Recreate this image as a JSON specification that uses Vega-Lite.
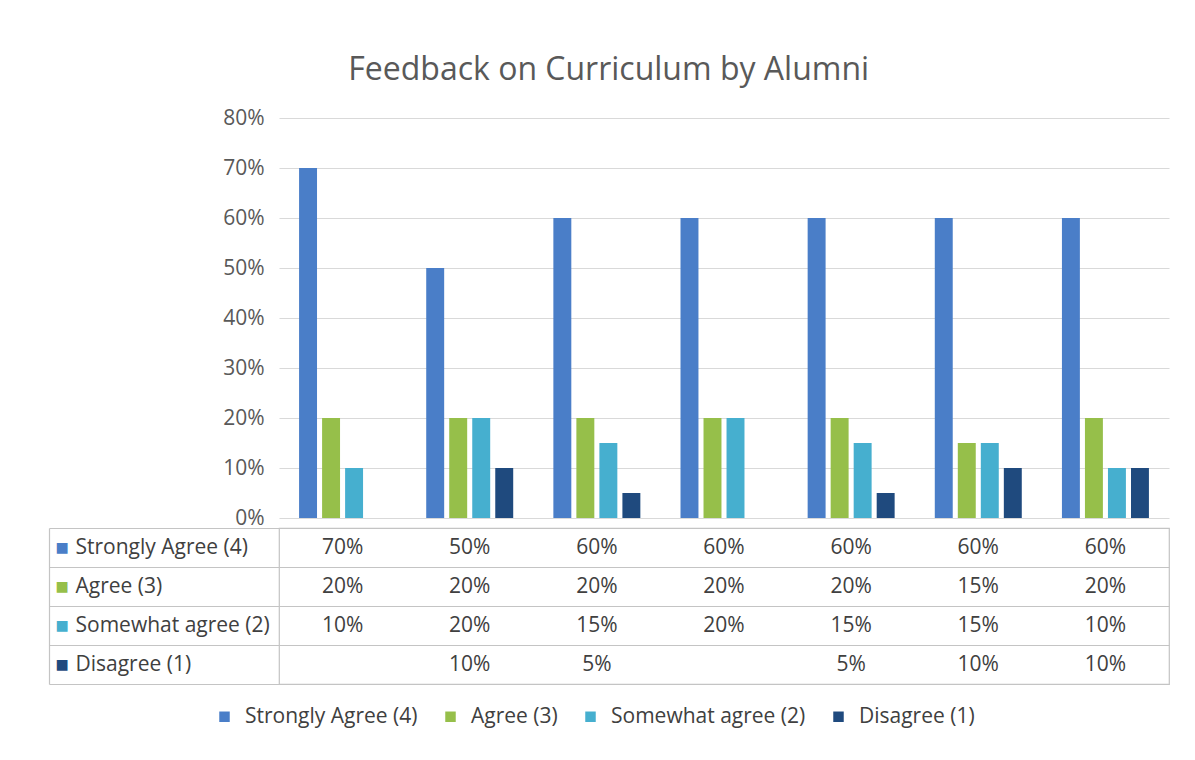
{
  "$schema": "https://vega.github.io/schema/vega-lite/v6.json",
  "background": "white",
  "padding": {"left": 47, "top": 54, "right": 20, "bottom": 10},
  "title": {"text": "Feedback on Curriculum by Alumni", "fontSize": 32, "font": "Open Sans", "fontWeight": "normal", "color": "#595959", "anchor": "middle", "offset": 20},
  "data": {"values": [
    {"item": "1", "series": "Strongly Agree (4)", "value": 0.70},
    {"item": "1", "series": "Agree (3)", "value": 0.20},
    {"item": "1", "series": "Somewhat agree (2)", "value": 0.10},
    {"item": "2", "series": "Strongly Agree (4)", "value": 0.50},
    {"item": "2", "series": "Agree (3)", "value": 0.20},
    {"item": "2", "series": "Somewhat agree (2)", "value": 0.20},
    {"item": "2", "series": "Disagree (1)", "value": 0.10},
    {"item": "3", "series": "Strongly Agree (4)", "value": 0.60},
    {"item": "3", "series": "Agree (3)", "value": 0.20},
    {"item": "3", "series": "Somewhat agree (2)", "value": 0.15},
    {"item": "3", "series": "Disagree (1)", "value": 0.05},
    {"item": "4", "series": "Strongly Agree (4)", "value": 0.60},
    {"item": "4", "series": "Agree (3)", "value": 0.20},
    {"item": "4", "series": "Somewhat agree (2)", "value": 0.20},
    {"item": "5", "series": "Strongly Agree (4)", "value": 0.60},
    {"item": "5", "series": "Agree (3)", "value": 0.20},
    {"item": "5", "series": "Somewhat agree (2)", "value": 0.15},
    {"item": "5", "series": "Disagree (1)", "value": 0.05},
    {"item": "6", "series": "Strongly Agree (4)", "value": 0.60},
    {"item": "6", "series": "Agree (3)", "value": 0.15},
    {"item": "6", "series": "Somewhat agree (2)", "value": 0.15},
    {"item": "6", "series": "Disagree (1)", "value": 0.10},
    {"item": "7", "series": "Strongly Agree (4)", "value": 0.60},
    {"item": "7", "series": "Agree (3)", "value": 0.20},
    {"item": "7", "series": "Somewhat agree (2)", "value": 0.10},
    {"item": "7", "series": "Disagree (1)", "value": 0.10}
  ]},
  "spacing": -13,
  "resolve": {"scale": {"x": "independent", "y": "independent"}},
  "vconcat": [
    {
      "width": 890,
      "height": 400,
      "mark": {"type": "bar"},
      "encoding": {
        "x": {"field": "item", "type": "nominal", "axis": null, "scale": {"paddingInner": 0.276, "paddingOuter": 0.138}},
        "xOffset": {"field": "series", "type": "nominal", "scale": {"domain": ["Strongly Agree (4)", "Agree (3)", "Somewhat agree (2)", "Disagree (1)"], "paddingInner": 0.22, "paddingOuter": 0.11}},
        "y": {"field": "value", "type": "quantitative", "scale": {"domain": [0, 0.8], "nice": false},
          "axis": {"title": null, "values": [0, 0.1, 0.2, 0.3, 0.4, 0.5, 0.6, 0.7, 0.8], "format": ".0%", "domain": false, "ticks": false, "labelPadding": 15, "labelFontSize": 21, "labelFont": "Open Sans", "labelColor": "#595959", "gridColor": "#d9d9d9", "gridWidth": 1.2}},
        "color": {"field": "series", "type": "nominal",
          "scale": {"domain": ["Strongly Agree (4)", "Agree (3)", "Somewhat agree (2)", "Disagree (1)"], "range": ["#4A7EC8", "#96BF4A", "#46AFCF", "#1F4A7E"]},
          "legend": {"orient": "none", "legendX": -65, "legendY": 588, "direction": "horizontal", "title": null, "symbolType": "square", "symbolSize": 110, "symbolStrokeWidth": 0, "labelFontSize": 21, "labelFont": "Open Sans", "labelColor": "#404040", "labelOffset": 10, "columnPadding": 22, "labelLimit": 300}}
      }
    },
    {
      "width": 890,
      "height": 156,
      "view": {"stroke": "#c4c4c4", "strokeWidth": 1.2},
      "resolve": {"axis": {"y": "independent"}},
      "layer": [
        {
          "mark": {"type": "text", "fontSize": 21, "font": "Open Sans", "color": "#404040"},
          "encoding": {
            "x": {"field": "item", "type": "nominal", "scale": {"paddingInner": 0, "paddingOuter": 0},
              "axis": {"title": null, "grid": true, "tickBand": "extent", "labels": false, "ticks": false, "domain": false, "gridColor": "#c4c4c4", "gridWidth": 1.2}},
            "y": {"field": "series", "type": "nominal", "scale": {"domain": ["Strongly Agree (4)", "Agree (3)", "Somewhat agree (2)", "Disagree (1)"], "paddingInner": 0, "paddingOuter": 0},
              "axis": {"orient": "left", "title": null, "domain": false, "ticks": true, "tickBand": "extent", "tickSize": 230, "tickColor": "#c4c4c4", "tickWidth": 1.2, "grid": true, "gridColor": "#c4c4c4", "gridWidth": 1.2, "labelAlign": "left", "labelPadding": -26, "labelFontSize": 21, "labelFont": "Open Sans", "labelColor": "#404040", "labelLimit": 300}},
            "text": {"field": "value", "type": "quantitative", "format": ".0%"}
          }
        },
        {
          "mark": {"type": "text", "opacity": 0},
          "encoding": {
            "x": {"field": "item", "type": "nominal", "axis": null},
            "y": {"field": "series", "type": "nominal",
              "axis": {"orient": "left", "offset": 230, "title": null, "domain": true, "domainColor": "#c4c4c4", "domainWidth": 1.2, "ticks": false, "tickSize": 0, "grid": false, "labelExpr": "'■'", "labelAlign": "left", "labelPadding": -6, "labelFont": "DejaVu Sans", "labelFontSize": 14,
                "labelColor": {"condition": [
                  {"test": "datum.value === 'Strongly Agree (4)'", "value": "#4A7EC8"},
                  {"test": "datum.value === 'Agree (3)'", "value": "#96BF4A"},
                  {"test": "datum.value === 'Somewhat agree (2)'", "value": "#46AFCF"}
                ], "value": "#1F4A7E"}}},
            "text": {"field": "value", "type": "quantitative", "format": ".0%"}
          }
        }
      ]
    }
  ],
  "config": {"view": {"stroke": null}, "font": "Open Sans"}
}
